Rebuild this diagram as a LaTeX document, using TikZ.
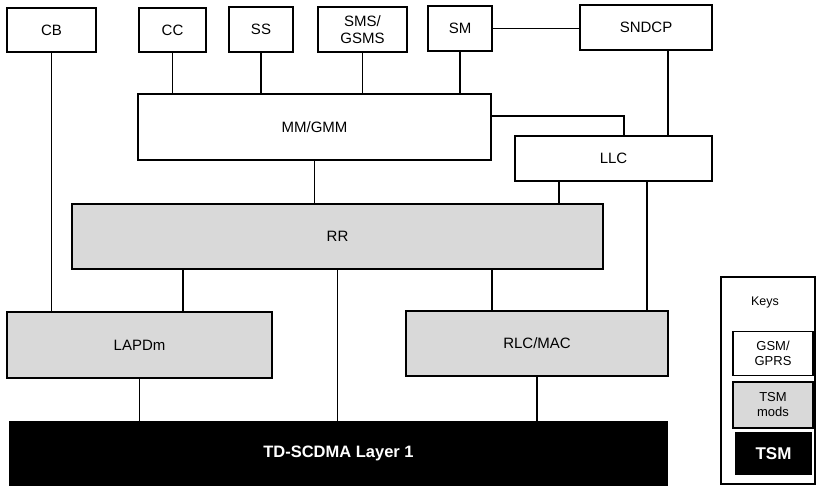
\documentclass[tikz,border=0pt]{standalone}
\usepackage{fontspec}
\setmainfont{Liberation Sans}
\begin{document}
\begin{tikzpicture}[x=1pt,y=-1pt,
  box/.style={draw=black,line width=1.2pt,fill=white,inner sep=0pt,align=center,font=\fontsize{15}{17}\selectfont},
  grey/.style={box,fill=gray!30},
  blk/.style={box,fill=black,text=white,font=\fontsize{16.5}{18}\selectfont\bfseries},
  keybox/.style={box,font=\fontsize{13}{15}\selectfont},
  conn/.style={line width=1.2pt}]
\useasboundingbox (0,0) rectangle (816,486);
% top row
\node[box,minimum width=89pt,minimum height=44pt] (cb) at (51.5,30) {CB};
\node[box,minimum width=67pt,minimum height=44pt] (cc) at (172.5,30) {CC};
\node[box,minimum width=64pt,minimum height=45pt] (ss) at (261,29.5) {SS};
\node[box,minimum width=89pt,minimum height=45pt] (sms) at (362.5,29.5) {SMS/\\GSMS};
\node[box,minimum width=64pt,minimum height=45pt] (sm) at (460,28.5) {SM};
\node[box,minimum width=132pt,minimum height=45pt] (sndcp) at (646,27.5) {SNDCP};
% middle
\node[box,minimum width=353pt,minimum height=66pt] (mm) at (314.5,127) {MM/GMM};
\node[box,minimum width=197pt,minimum height=45pt] (llc) at (613.5,158.5) {LLC};
\node[grey,minimum width=531pt,minimum height=65pt] (rr) at (337.5,236.5) {RR};
\node[grey,minimum width=265pt,minimum height=66pt] (lapdm) at (139.5,345) {LAPDm};
\node[grey,minimum width=262pt,minimum height=65pt] (rlc) at (537,343.5) {RLC/MAC};
\node[blk,minimum width=657pt,minimum height=63pt] (td) at (338.5,453.5) {TD-SCDMA Layer 1};
% keys
\node[draw=black,line width=1.2pt,minimum width=94pt,minimum height=207pt,inner sep=0pt] (keys) at (768,380.5) {};
\node[font=\fontsize{12.5}{14}\selectfont,inner sep=0pt] (keyt) at (765,302) {Keys};
\node[keybox,minimum width=80pt,minimum height=44pt] (k1) at (773,353.5) {GSM/\\GPRS};
\node[keybox,fill=gray!30,minimum width=80pt,minimum height=46pt] (k2) at (773,405) {TSM\\mods};
\node[keybox,fill=black,text=white,font=\fontsize{17}{19}\selectfont\bfseries,minimum width=75pt,minimum height=41pt] (k3) at (773.5,453.5) {TSM};
% helper coordinates
\coordinate (s1) at ([xshift=22pt]sndcp.south);
\coordinate (m1) at ([yshift=11pt]mm.east);
\coordinate (m2) at ([xshift=10.5pt]llc.north);
\coordinate (l1) at ([xshift=-54.5pt]llc.south);
\coordinate (l2) at ([xshift=33.5pt]llc.south);
\coordinate (r1) at (183,269);
\coordinate (r2) at (492,269);
% connectors
\draw[conn] (cb.south) -- (cb.south |- lapdm.north);
\draw[conn] (cc.south) -- (cc.south |- mm.north);
\draw[conn] (ss.south) -- (ss.south |- mm.north);
\draw[conn] (sms.south) -- (sms.south |- mm.north);
\draw[conn] (sm.south) -- (sm.south |- mm.north);
\draw[conn] (sm.east) -- (sm.east -| sndcp.west);
\draw[conn] (s1) -- (s1 |- llc.north);
\draw[conn] (m1) -| (m2);
\draw[conn] (mm.south) -- (mm.south |- rr.north);
\draw[conn] (l1) -- (l1 |- rr.north);
\draw[conn] (l2) -- (l2 |- rlc.north);
\draw[conn] (r1 |- rr.south) -- (r1 |- lapdm.north);
\draw[conn] (rr.south) -- (rr.south |- td.north);
\draw[conn] (r2 |- rr.south) -- (r2 |- rlc.north);
\draw[conn] (lapdm.south) -- (lapdm.south |- td.north);
\draw[conn] (rlc.south) -- (rlc.south |- td.north);
\end{tikzpicture}
\end{document}
